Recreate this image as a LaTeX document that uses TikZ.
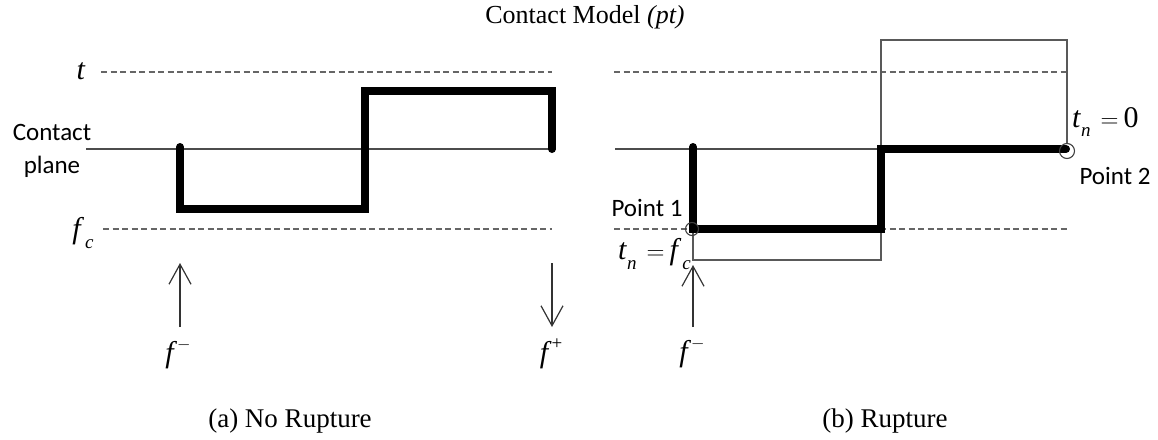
\documentclass[tikz,border=0pt]{standalone}
\usepackage{fontspec}
\setmainfont{Liberation Serif}
\newfontfamily\calfont{Carlito}
\usetikzlibrary{arrows.meta}
\newcommand{\fs}[1]{\fontsize{#1}{#1}\selectfont}
\newcommand{\sub}[1]{\raisebox{-0.32em}{\fs{19}\textit{#1}}}
\tikzset{
  dashline/.style={draw=black!60, line width=1.3pt, dash pattern=on 6pt off 3.5pt},
  thinline/.style={draw=black!70, line width=1.2pt},
  boxline/.style={draw=black!65, line width=1.4pt},
  thickline/.style={draw=black, line width=8pt, line cap=round, line join=miter},
  forcearrow/.style={draw=black!80, line width=1.2pt, -{Straight Barb[length=20pt,width=22pt,line width=1.2pt]}},
  pt/.style={draw=black!75, line width=1.1pt, fill=none},
  txt/.style={inner sep=0pt, font=\fs{26}},
  cal/.style={inner sep=0pt, font=\calfont\fs{25}},
  mth/.style={inner sep=0pt, font=\fs{30}}
}
\begin{document}
\begin{tikzpicture}[x=1pt,y=-1pt]
\useasboundingbox (0,0) rectangle (1158,439);

% title and captions
\node[txt] (title) at (585,17) {Contact Model \textit{(pt)}};
\node[txt, font=\fs{27}] (capa) at (290,421) {(a) No Rupture};
\node[txt, font=\fs{27}] (capb) at (885,421) {(b) Rupture};

% ---------- left panel ----------
\coordinate (tL1) at (101,72);  \coordinate (tL2) at (552,72);
\coordinate (cL1) at (86,149);  \coordinate (cL2) at (556,149);
\coordinate (fL1) at (103,229); \coordinate (fL2) at (552,229);
\draw[dashline] (tL1) -- (tL2);
\draw[thinline] (cL1) -- (cL2);
\draw[dashline] (fL1) -- (fL2);
\coordinate (a1) at (180,147); \coordinate (a2) at (180,209);
\coordinate (a3) at (365,209); \coordinate (a4) at (365,91);
\coordinate (a5) at (552,91);  \coordinate (a6) at (552,149);
\draw[thickline] (a1) -- (a2) -- (a3) -- (a4) -- (a5) -- (a6);

\node[mth] (tlab) at (81,71) {\textit{t}};
\node[mth] (fclab) at (83,233) {\textit{f}\kern1pt\sub{c}};
\node[cal] (contact) at (52,132) {Contact};
\node[cal] (plane) at (52,167) {plane};

\coordinate (uL1) at (180,327); \coordinate (uL2) at (180,263);
\draw[forcearrow] (uL1) -- (uL2);
\coordinate (dL1) at (552,263); \coordinate (dL2) at (552,327);
\draw[forcearrow] (dL1) -- (dL2);
\node[mth] (fmL) at (178,354) {\textit{f}\raisebox{0.45em}{\fs{19}$-$}};
\node[mth] (fpL) at (551,354) {\textit{f}\raisebox{0.45em}{\fs{19}+}};

% ---------- right panel ----------
\coordinate (tR1) at (614,72);  \coordinate (tR2) at (1067,72);
\coordinate (cR1) at (615,149); \coordinate (cR2) at (1067,149);
\coordinate (fR1) at (614,229); \coordinate (fR2) at (1067,229);
\draw[dashline] (tR1) -- (tR2);
\draw[thinline] (cR1) -- (cR2);
\draw[dashline] (fR1) -- (fR2);

% thin boxes
\coordinate (r1) at (693,229); \coordinate (r2) at (693,260);
\coordinate (r3) at (881,260); \coordinate (r4) at (881,40);
\coordinate (r5) at (1067,40); \coordinate (r6) at (1067,144);
\draw[boxline] (r1) -- (r2) -- (r3) -- (r4) -- (r5) -- (r6);

\coordinate (b1) at (693,147); \coordinate (b2) at (693,229);
\coordinate (b3) at (881,229); \coordinate (b4) at (881,149);
\coordinate (b5) at (1066,149);
\draw[thickline] (b1) -- (b2) -- (b3) -- (b4) -- (b5);

\node[pt, circle, minimum size=13pt, inner sep=0pt] (p1) at (692,229) {};
\node[pt, circle, minimum size=15pt, inner sep=0pt] (p2) at (1067,151) {};

\node[cal] (pt1lab) at (647,208) {Point 1};
\node[cal] (pt2lab) at (1115,176) {Point 2};
\node[mth, anchor=west] (tn0) at (1072,122) {\textit{t}\sub{n}\,\,$=$\,0};
\node[mth, anchor=east] (tnfc) at (691,254) {\textit{t}\sub{n}\,\,$=$\,\textit{f}\kern1pt\sub{c}};

\coordinate (uR1) at (693,327); \coordinate (uR2) at (693,265);
\draw[forcearrow] (uR1) -- (uR2);
\node[mth] (fmR) at (692,353) {\textit{f}\raisebox{0.45em}{\fs{19}$-$}};
\end{tikzpicture}
\end{document}
